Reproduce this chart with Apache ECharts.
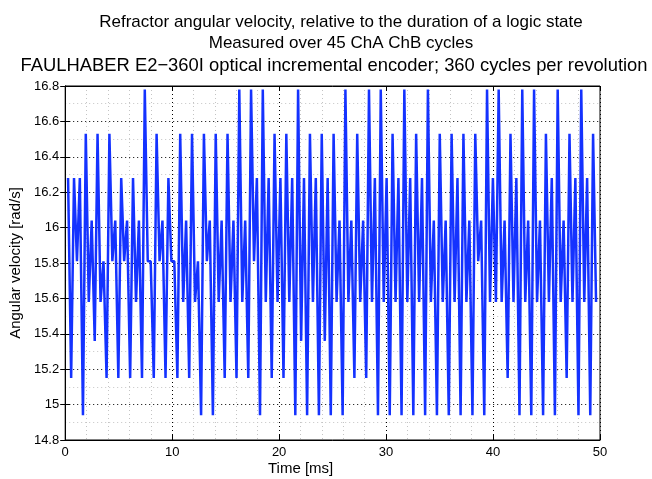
<!DOCTYPE html>
<html>
<head>
<meta charset="utf-8">
<script src="https://cdn.jsdelivr.net/npm/echarts@6/dist/echarts.min.js"></script>
<style>
  html, body { margin: 0; padding: 0; background: #fff; }
  #main { width: 652px; height: 479px; }
</style>
</head>
<body>
<div id="main"></div>
<script>
// chart titles
const titleLines = [
  'Refractor angular velocity, relative to the duration of a logic state',
  'Measured over 45 ChA ChB cycles',
  'FAULHABER E2\u2212360I optical incremental encoder; 360 cycles per revolution'
]
const xName = 'Time [ms]'
const yName = 'Angular velocity [rad/s]'

// angular velocity per logic state [rad/s]
const velocity = [
  16.28, 15.15, 16.28, 15.81, 16.28, 14.94, 16.53, 15.58, 16.04, 15.36, 16.53, 15.58, 15.81,
  15.15, 16.53, 15.81, 16.04, 15.15, 16.28, 15.81, 16.04, 15.15, 16.28, 15.58, 16.04, 15.15,
  16.78, 15.81, 15.81, 15.15, 16.53, 15.81, 16.04, 15.15, 16.28, 15.81, 15.81, 15.15,
  16.53, 15.58, 16.04, 15.15, 16.53, 15.58, 15.81, 14.94, 16.53, 15.81, 16.04, 14.94,
  16.53, 15.58, 16.04, 15.15, 16.53, 15.58, 16.04, 15.15, 16.78, 15.58, 16.04, 15.15, 16.78,
  15.81, 16.28, 14.94, 16.78, 15.58, 16.28, 15.15, 16.53, 15.58, 16.28, 15.15, 16.53, 15.58,
  16.28, 14.94, 16.78, 15.36, 16.28, 14.94, 16.53, 15.58, 16.28, 14.94, 16.53, 15.36, 16.28,
  14.94, 16.53, 15.58, 16.04, 14.94, 16.78, 15.58, 16.04, 15.15, 16.53, 15.58, 16.04, 15.15,
  16.78, 15.58, 16.28, 14.94, 16.78, 15.58, 16.28, 14.94, 16.53, 15.58, 16.28, 14.94, 16.78,
  15.58, 16.28, 14.94, 16.53, 15.58, 16.28, 14.94, 16.78, 15.58, 16.04, 14.94, 16.53,
  15.58, 16.04, 14.94, 16.53, 15.58, 16.28, 14.94, 16.53, 15.58, 16.04, 14.94, 16.53, 15.81,
  16.04, 14.94, 16.78, 15.58, 16.28, 15.58, 16.78, 15.58, 16.04, 15.15, 16.53, 15.58, 16.28,
  14.94, 16.78, 15.58, 16.04, 14.94, 16.78, 15.58, 16.04, 14.94, 16.53, 15.58, 16.28, 14.94,
  16.78, 15.58, 16.04, 15.15, 16.53, 15.58, 16.28, 14.94, 16.78, 15.58, 16.28, 14.94, 16.53, 15.58
]

// axis ranges
const xRange = [0, 50]
const yRange = [14.8, 16.8]

// one logic state = quarter of a 360 cycles/rev encoder cycle -> angle in rad
const stateAngle = Math.PI / 720
// time axis: each point sits at the end of its logic state (ms)
let t = 0
const points = velocity.map(w => {
  t += stateAngle / w * 1000
  return [t, w]
})

const font = 'Liberation Sans, Arial, sans-serif'
const txt = { color: '#000', fontFamily: font, fontSize: 13 }
const major = { show: true, lineStyle: { color: '#000', type: [1, 3], width: 1 } }
const minor = { show: true, lineStyle: { color: '#c4c4c4', type: [1, 3], width: 1 } }

const chart = echarts.init(document.getElementById('main'), null, { renderer: 'canvas' })
chart.setOption({
  animation: false,
  backgroundColor: '#fff',
  title: [
    {
      text: titleLines[0] + '\n' + titleLines[1],
      left: 336, textAlign: 'center', top: 7,
      textStyle: { fontFamily: font, fontSize: 17, fontWeight: 'normal', color: '#000', lineHeight: 21 }
    },
    {
      text: titleLines[2],
      left: 329, textAlign: 'center', top: 50,
      textStyle: { fontFamily: font, fontSize: 18.4, fontWeight: 'normal', color: '#000', lineHeight: 22 }
    }
  ],
  grid: { left: 64, right: 52, top: 86, bottom: 39, show: true, borderColor: '#000', borderWidth: 1 },
  xAxis: [
    {
      type: 'value', min: xRange[0], max: xRange[1], interval: 10,
      axisLine: { lineStyle: { color: '#000' } },
      axisTick: { inside: true, length: 5, lineStyle: { color: '#000' } },
      axisLabel: Object.assign({ margin: 6 }, txt),
      splitLine: major,
      minorTick: { show: false, splitNumber: 5 },
      minorSplitLine: minor
    },
    {
      type: 'value', position: 'top', min: xRange[0], max: xRange[1], interval: 10,
      axisLine: { show: true, lineStyle: { color: '#000' } },
      axisTick: { inside: true, length: 5, lineStyle: { color: '#000' } },
      axisLabel: { show: false }, splitLine: { show: false }
    }
  ],
  yAxis: [
    {
      type: 'value', min: yRange[0], max: yRange[1], interval: 0.2,
      name: yName, nameLocation: 'middle', nameGap: 42,
      nameTextStyle: Object.assign({}, txt, { fontSize: 15 }),
      axisLine: { show: true, lineStyle: { color: '#000' } },
      axisTick: { show: true, inside: true, length: 5, lineStyle: { color: '#000' } },
      axisLabel: Object.assign({ margin: 6, formatter: v => String(+v.toFixed(1)) }, txt),
      splitLine: major,
      minorTick: { show: false, splitNumber: 2 },
      minorSplitLine: minor
    },
    {
      type: 'value', position: 'right', min: yRange[0], max: yRange[1], interval: 0.2,
      axisLine: { show: true, lineStyle: { color: '#000' } },
      axisTick: { show: true, inside: true, length: 5, lineStyle: { color: '#000' } },
      axisLabel: { show: false }, splitLine: { show: false }
    }
  ],
  graphic: [{
    type: 'text', left: 268, top: 461,
    style: { text: xName, fontFamily: font, fontSize: 15, fill: '#000' }
  }],
  series: [{
    type: 'line',
    data: points,
    showSymbol: false,
    lineStyle: { color: '#1432ff', width: 2.5 },
    z: 5
  }]
})
</script>
</body>
</html>
